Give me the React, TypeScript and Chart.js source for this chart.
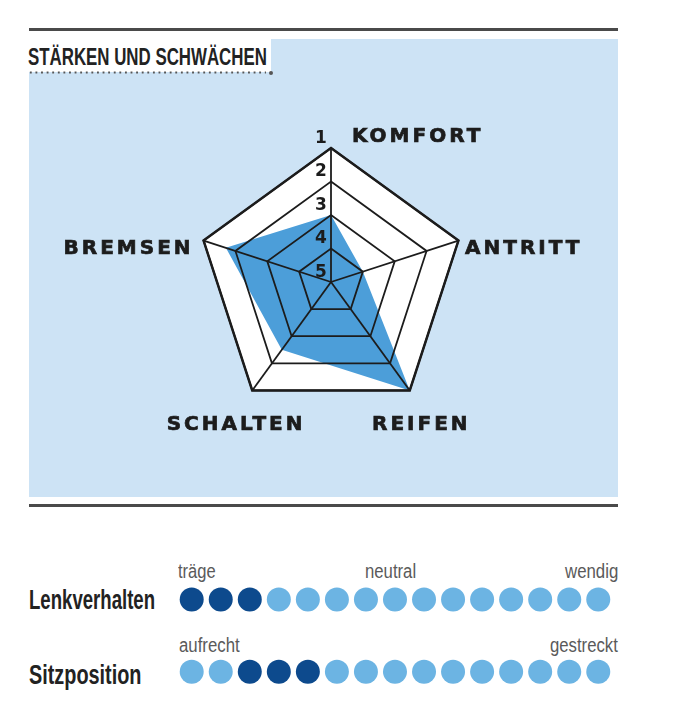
import React, { useEffect, useLayoutEffect, useRef } from 'react';
import { Chart, registerables } from 'chart.js';

Chart.register(...registerables);

// Noten 1 (außen) bis 5 (Mitte)
const radarAxes = ['KOMFORT', 'ANTRITT', 'REIFEN', 'SCHALTEN', 'BREMSEN'];
const radarScores = [3, 4, 1, 2.5, 1.7];
const radarTicks = [1, 2, 3, 4, 5];

// Punkteskalen unten
const scaleRows = ['Lenkverhalten', 'Sitzposition'];
const dotSteps = [1, 2, 3, 4, 5, 6, 7, 8, 9, 10, 11, 12, 13, 14, 15];
const lenkverhaltenMarked = [1, 2, 3];
const sitzpositionMarked = [3, 4, 5];
const lenkverhaltenHints = ['träge', 'neutral', 'wendig'];
const sitzpositionHints = ['aufrecht', 'gestreckt'];

const PANEL = '#cde3f5';
const FILL = '#4c9ed9';
const INK = '#1c1c1c';
const DARK_DOT = '#0d4a8d';
const LIGHT_DOT = '#6cb4e3';
const SANS = '"Liberation Sans", Arial, sans-serif';

// schmale Schrift nachbauen: Text horizontal auf Zielbreite stauchen
const FitText: React.FC<{ text: string; left: number; top: number; width: number; style: React.CSSProperties }> = ({
  text,
  left,
  top,
  width,
  style,
}) => {
  const ref = useRef<HTMLDivElement>(null);
  useLayoutEffect(() => {
    const el = ref.current;
    if (!el) return;
    el.style.transform = 'none';
    const natural = el.offsetWidth;
    if (natural > 0) el.style.transform = `scaleX(${width / natural})`;
  }, [text, width]);
  return (
    <div
      ref={ref}
      style={{
        position: 'absolute',
        left,
        top,
        whiteSpace: 'nowrap',
        transformOrigin: 'left center',
        fontFamily: SANS,
        ...style,
      }}
    >
      {text}
    </div>
  );
};

const RadarChart: React.FC = () => {
  const chartRef = useRef<HTMLCanvasElement>(null);
  const chartInstance = useRef<Chart | null>(null);

  useEffect(() => {
    if (!chartRef.current) return;
    if (chartInstance.current) chartInstance.current.destroy();

    // Beschriftung neben den Ecken
    const labelLayout = [
      { align: 'left', dx: 21, dy: -11.5 },
      { align: 'left', dx: 6.6, dy: 8.4 },
      { align: 'center', dx: 11.5, dy: 34.6 },
      { align: 'center', dx: -16.2, dy: 34.6 },
      { align: 'right', dx: -10, dy: 8.4 },
    ];

    const outline = (chart: any, ctx: CanvasRenderingContext2D) => {
      const s = chart.scales.r;
      ctx.beginPath();
      radarAxes.forEach((_, i) => {
        const p = s.getPointPosition(i, s.drawingArea);
        if (i === 0) ctx.moveTo(p.x, p.y);
        else ctx.lineTo(p.x, p.y);
      });
      ctx.closePath();
    };

    const webPlugin = {
      id: 'web',
      beforeDatasetsDraw(chart: any) {
        const ctx = chart.ctx;
        ctx.save();
        outline(chart, ctx);
        ctx.fillStyle = '#ffffff';
        ctx.fill();
        ctx.restore();
      },
      afterDatasetsDraw(chart: any) {
        const ctx = chart.ctx;
        ctx.save();
        outline(chart, ctx);
        ctx.strokeStyle = INK;
        ctx.lineWidth = 2.5;
        ctx.lineJoin = 'miter';
        ctx.stroke();
        ctx.restore();
      },
      afterDraw(chart: any) {
        const s = chart.scales.r;
        const ctx = chart.ctx;
        ctx.save();
        ctx.fillStyle = INK;
        ctx.strokeStyle = INK;
        ctx.lineWidth = 0.7;
        ctx.textBaseline = 'middle';
        ctx.textAlign = 'center';
        ctx.font = 'bold 17px "DejaVu Sans"';
        radarTicks.forEach((v) => {
          const d = s.getDistanceFromCenterForValue(v);
          ctx.fillText(String(v), s.xCenter - 10, s.yCenter - d - 9.5);
        });
        ctx.font = 'bold 20px "DejaVu Sans"';
        (ctx as any).letterSpacing = '3px';
        radarAxes.forEach((label, i) => {
          const p = s.getPointPosition(i, s.drawingArea);
          const l = labelLayout[i];
          ctx.textAlign = l.align as CanvasTextAlign;
          ctx.fillText(label, p.x + l.dx, p.y + l.dy);
          ctx.strokeText(label, p.x + l.dx, p.y + l.dy);
        });
        ctx.restore();
      },
    };

    chartInstance.current = new Chart(chartRef.current, {
      type: 'radar',
      data: {
        labels: radarAxes,
        datasets: [
          {
            data: radarScores,
            backgroundColor: FILL,
            borderWidth: 0,
            pointRadius: 0,
            fill: 'start',
          },
        ],
      },
      options: {
        animation: false,
        responsive: true,
        maintainAspectRatio: false,
        layout: { padding: { left: 168, right: 153, top: 109, bottom: 81 } },
        plugins: { legend: { display: false }, tooltip: { enabled: false } },
        scales: {
          r: {
            min: 1,
            max: 5,
            reverse: true,
            ticks: { display: false, stepSize: 1 },
            grid: { color: INK, lineWidth: 1.8, z: 1 } as any,
            angleLines: { color: INK, lineWidth: 1.8 },
            pointLabels: { display: false },
          },
        },
      },
      plugins: [webPlugin],
    });

    return () => {
      if (chartInstance.current) {
        chartInstance.current.destroy();
        chartInstance.current = null;
      }
    };
  }, []);

  return (
    <div style={{ position: 'absolute', left: 29, top: 39, width: 589, height: 458 }}>
      <canvas ref={chartRef}></canvas>
    </div>
  );
};

const DotScales: React.FC = () => {
  const chartRef = useRef<HTMLCanvasElement>(null);
  const chartInstance = useRef<Chart | null>(null);

  useEffect(() => {
    if (!chartRef.current) return;
    if (chartInstance.current) chartInstance.current.destroy();

    const marks = [lenkverhaltenMarked, sitzpositionMarked];
    const rowY = [2, 1];

    chartInstance.current = new Chart(chartRef.current, {
      type: 'scatter',
      data: {
        datasets: scaleRows.map((row, r) => ({
          label: row,
          data: dotSteps.map((x) => ({ x, y: rowY[r] })),
          pointRadius: 12,
          pointHoverRadius: 12,
          pointBorderWidth: 0,
          pointBackgroundColor: dotSteps.map((x) => (marks[r].includes(x) ? DARK_DOT : LIGHT_DOT)),
        })),
      },
      options: {
        animation: false,
        responsive: true,
        maintainAspectRatio: false,
        layout: { padding: { left: 12.66, right: 12.7, top: 13.25, bottom: 9.75 } },
        plugins: { legend: { display: false }, tooltip: { enabled: false } },
        scales: {
          x: { type: 'linear', min: 0, max: 16, display: false },
          y: { type: 'linear', min: 0.5, max: 2.5, display: false },
        },
      },
    });

    return () => {
      if (chartInstance.current) {
        chartInstance.current.destroy();
        chartInstance.current = null;
      }
    };
  }, []);

  return (
    <div style={{ position: 'absolute', left: 150, top: 550, width: 490, height: 170 }}>
      <canvas ref={chartRef}></canvas>
    </div>
  );
};

const hintStyle: React.CSSProperties = { fontSize: 20, lineHeight: '20px', color: '#5a5a5a' };
const rowStyle: React.CSSProperties = { fontSize: 27, lineHeight: '27px', fontWeight: 'bold', color: '#222' };

export default function App() {
  return (
    <div
      style={{
        position: 'fixed',
        left: 0,
        top: 0,
        width: 700,
        height: 720,
        background: '#ffffff',
        overflow: 'hidden',
      }}
    >
      {/* obere Linie und Panel */}
      <div style={{ position: 'absolute', left: 29, top: 28, width: 589, height: 3, background: '#4a4a4a' }} />
      <div style={{ position: 'absolute', left: 29, top: 39, width: 589, height: 458, background: PANEL }} />
      <div style={{ position: 'absolute', left: 29, top: 39, width: 242, height: 33, background: '#ffffff' }} />
      <FitText
        text="STÄRKEN UND SCHWÄCHEN"
        left={27.5}
        top={45.5}
        width={239}
        style={{ fontSize: 23, lineHeight: '23px', fontWeight: 'bold', color: '#222' }}
      />
      <div
        style={{
          position: 'absolute',
          left: 28,
          top: 71,
          width: 238,
          height: 3,
          backgroundImage: 'radial-gradient(circle, #555 0.9px, transparent 1.3px)',
          backgroundSize: '5.6px 3px',
        }}
      />
      <div style={{ position: 'absolute', left: 269, top: 70.5, width: 4, height: 4, borderRadius: 2, background: '#555' }} />

      <RadarChart />

      {/* untere Linie */}
      <div style={{ position: 'absolute', left: 29, top: 504, width: 589, height: 3, background: '#4a4a4a' }} />

      <FitText text={scaleRows[0]} left={29.3} top={587} width={126} style={rowStyle} />
      <FitText text={scaleRows[1]} left={29.3} top={662} width={112.5} style={rowStyle} />

      <FitText text={lenkverhaltenHints[0]} left={178} top={561} width={38} style={hintStyle} />
      <FitText text={lenkverhaltenHints[1]} left={365} top={561} width={51} style={hintStyle} />
      <FitText text={lenkverhaltenHints[2]} left={565} top={561} width={53} style={hintStyle} />
      <FitText text={sitzpositionHints[0]} left={178.5} top={635} width={60.5} style={hintStyle} />
      <FitText text={sitzpositionHints[1]} left={550} top={635} width={67.7} style={hintStyle} />

      <DotScales />
    </div>
  );
}
